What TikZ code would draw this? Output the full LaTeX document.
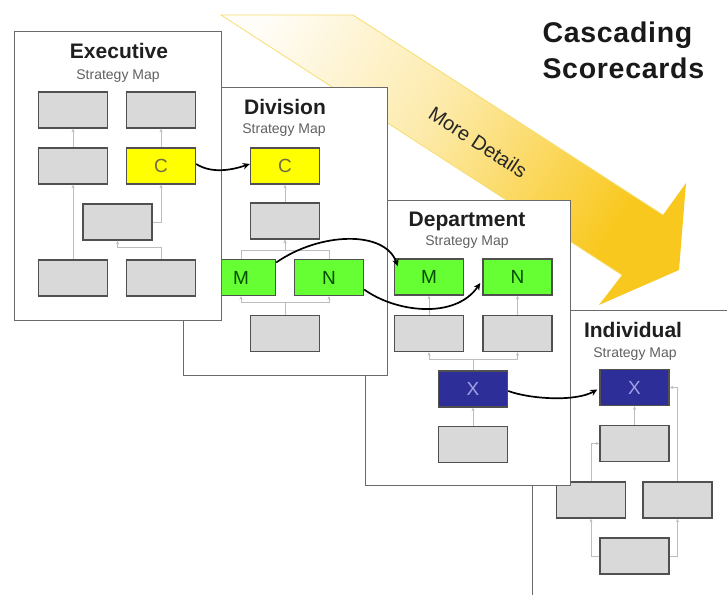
\documentclass[tikz,border=0pt]{standalone}
\usepackage{fontspec}
\setmainfont{Liberation Sans}
\newfontfamily\titlefont[LetterSpace=2.5]{Liberation Sans}
\usetikzlibrary{arrows.meta,calc}
\definecolor{boxgray}{HTML}{D9D9D9}
\definecolor{boxline}{HTML}{505050}
\definecolor{panelline}{HTML}{6A6A6A}
\definecolor{cyellow}{HTML}{FFFF00}
\definecolor{cgreen}{HTML}{66FF33}
\definecolor{cblue}{HTML}{2E2E99}
\definecolor{linkgray}{HTML}{BDBDBD}
\definecolor{arrowA}{HTML}{FFFDF8}
\definecolor{arrowB}{HTML}{F9C81E}
\definecolor{arrowedge}{HTML}{F5DE70}
\pgfdeclareverticalshading{arrowshade}{100bp}{color(0bp)=(arrowB); color(28bp)=(arrowB); color(55bp)=(arrowB!38!white); color(80bp)=(arrowA); color(100bp)=(white)}
\tikzset{
  panel/.style={draw=panelline, line width=1.4pt, fill=white, inner sep=0pt, anchor=north west},
  card/.style={draw=boxline, line width=1.4pt, fill=boxgray, minimum width=69pt, minimum height=36pt, inner sep=0pt, font=\fontsize{19}{19}\selectfont},
  ycard/.style={card, fill=cyellow, text=yellow!35!black},
  gcard/.style={card, fill=cgreen, text=green!30!black},
  bcard/.style={card, fill=cblue, text={rgb,255:red,160;green,160;blue,230}},
  ptitle/.style={font=\bfseries\fontsize{21}{21}\selectfont, anchor=base, text=black!88},
  psub/.style={font=\fontsize{14}{14}\selectfont, anchor=base, text=black!62},
  link/.style={draw=linkgray, line width=0.8pt, -{Stealth[length=3.5pt,width=3pt]}},
  flow/.style={draw=black, line width=1.7pt, -{Stealth[length=7pt,width=6.5pt]}}
}
\begin{document}
\begin{tikzpicture}[x=1pt,y=-1pt]
\useasboundingbox (0,0) rectangle (727,594);
\clip (0,0) rectangle (727,594);
\fill[white] (0,0) rectangle (727,594);

% big cascading arrow
\shade[shading=arrowshade, shading angle=57] (221,15) -- (353,15) -- (663,215) -- (686,183) -- (679,270) -- (599,305) -- (622,275) -- cycle;
\draw[arrowedge, line width=0.8pt] (622,275) -- (221,15) -- (353,15) -- (663,215);
\node[rotate=-33, font=\fontsize{20}{20}\selectfont, text=black!85] (md) at (478,142) {More Details};

% Individual
\node[panel, minimum width=220pt, minimum height=300pt] (pind) at (532,310) {};
\node[ptitle] (ti) at (633,337) {Individual};
\node[psub] (si) at (635,357) {Strategy Map};
\node[bcard] (ix) at (634.5,387.5) {X};
\node[card] (ig1) at (634.5,443.5) {};
\node[card] (ig2) at (591,500) {};
\node[card] (ig3) at (677.5,500) {};
\node[card] (ig4) at (634.5,556) {};
\draw[link] (ig1.north) -- (ix.south);
\draw[link] (ig2.north) |- (ig1.west);
\draw[link] (ig3.north) |- (ix.east);
\draw[link] (ig4.west) -| (ig2.south);
\draw[link] (ig4.east) -| (ig3.south);

% Department
\node[panel, minimum width=205pt, minimum height=285pt] (pdep) at (365,200) {};
\node[ptitle] (tt) at (467,226) {Department};
\node[psub] (st) at (467,245) {Strategy Map};
\node[gcard] (tm) at (429,277) {M};
\node[gcard] (tn) at (517.5,277) {N};
\node[card] (tg1) at (429,333.5) {};
\node[card] (tg2) at (517.5,333.5) {};
\node[bcard] (tx) at (473,389) {X};
\node[card] (tg3) at (473,444.5) {};
\draw[link] (tg1.north) -- (tm.south);
\draw[link] (tg2.north) -- (tn.south);
\draw[link] (tx.north) -- ++(0,-11) -| (tg1.south);
\draw[link] (tx.north) -- ++(0,-11) -| (tg2.south);
\draw[link] (tg3.north) -- (tx.south);

% Division
\node[panel, minimum width=204pt, minimum height=288pt] (pdiv) at (183,87) {};
\node[ptitle] (td) at (285,114) {Division};
\node[psub] (sd) at (284,133) {Strategy Map};
\node[ycard] (dc) at (285,166) {C};
\node[card] (dg1) at (285,221) {};
\node[gcard] (dm) at (241,277.5) {M};
\node[gcard] (dn) at (329,277.5) {N};
\node[card] (dg2) at (285,333.5) {};
\draw[link] (dg1.north) -- (dc.south);
\draw[link] (dm.north) -- ++(0,-8) -| (dg1.south);
\draw[link] (dn.north) -- ++(0,-8) -| (dg1.south);
\draw[link] (dg2.north) -- ++(0,-12) -| (dm.south);
\draw[link] (dg2.north) -- ++(0,-12) -| (dn.south);

% Executive
\node[panel, minimum width=207pt, minimum height=289pt] (pexe) at (14,31) {};
\node[ptitle] (te) at (119,59) {Executive};
\node[psub] (se) at (118,79) {Strategy Map};
\node[card] (e1) at (73,110) {};
\node[card] (e2) at (161,110) {};
\node[card] (e3) at (73,166) {};
\node[ycard] (ec) at (161,166) {C};
\node[card] (e5) at (117.5,222) {};
\node[card] (e6) at (73,278) {};
\node[card] (e7) at (161,278) {};
\draw[link] (e6.north) -- (e3.south);
\draw[link] (e3.north) -- (e1.south);
\draw[link] (ec.north) -- (e2.south);
\draw[link] (e5.east) -| (ec.south);
\draw[link] (e7.north) -- ++(0,-12) -| (e5.south);

% cascading links
\draw[flow] ($(ec.east)+(0,-2)$) .. controls (212,174) and (232,170) .. ($(dc.west)+(0,-2)$);
\draw[flow] ($(dm.east)+(0,-15)$) .. controls (320,232) and (385,230) .. ($(tm.north west)+(4,8)$);
\draw[flow] ($(dn.east)+(0,12)$) .. controls (395,312) and (455,320) .. ($(tn.west)+(-2,6)$);
\draw[flow] ($(tx.east)+(0,2)$) .. controls (530,399) and (575,402) .. ($(ix.west)+(-2,2)$);

% title
\node[font=\titlefont\bfseries\fontsize{28.5}{28.5}\selectfont, anchor=base west, text=black!90] (t1) at (539,43) {Cascading};
\node[font=\titlefont\bfseries\fontsize{28.5}{28.5}\selectfont, anchor=base west, text=black!90] (t2) at (539,78) {Scorecards};
\end{tikzpicture}
\end{document}
